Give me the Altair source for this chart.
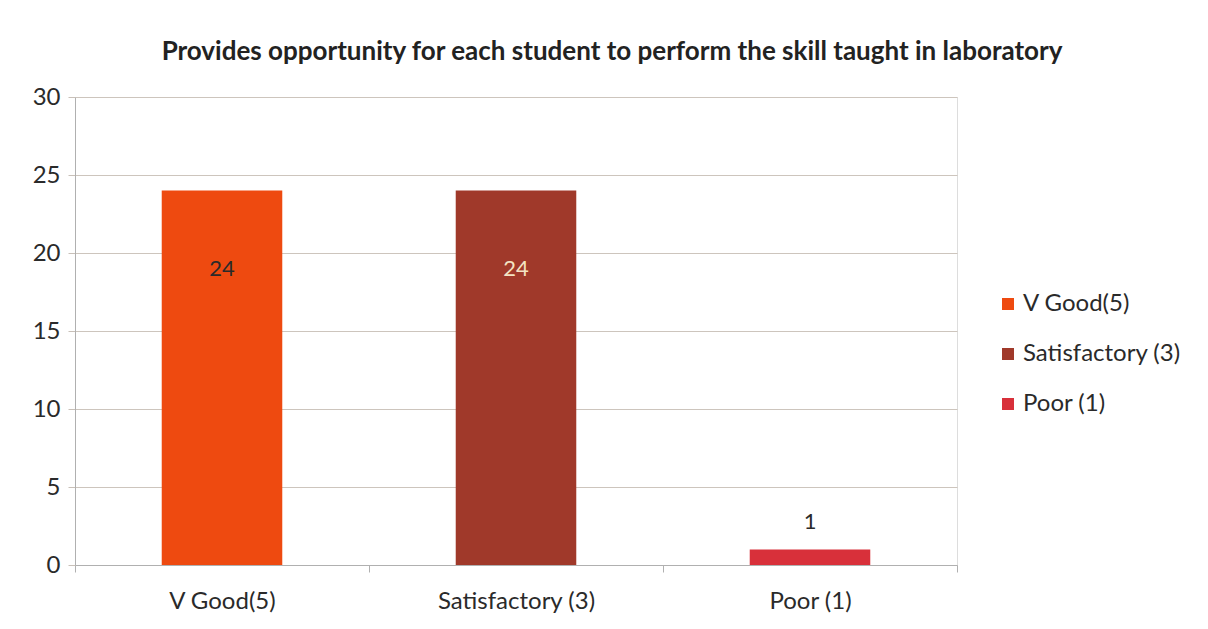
import altair as alt
import pandas as pd

categories = ["V Good(5)", "Satisfactory (3)", "Poor (1)"]
counts = [24, 24, 1]
colors = ["#EE4A10", "#A0392A", "#D8303A"]
title_text = "Provides opportunity for each student to perform the skill taught in laboratory"

df = pd.DataFrame({"category": categories, "count": counts})

FONT = "Lato"
TXT = "#2a2a2a"

x = alt.X("category:N", sort=categories, title=None,
          scale=alt.Scale(paddingInner=0, paddingOuter=0),
          axis=alt.Axis(labelAngle=0, labelFontSize=24, labelColor=TXT,
                        labelFont=FONT, tickBand="extent", tickSize=7,
                        tickColor="#b0b0b0", domainColor="#b0b0b0",
                        labelPadding=17, grid=False))
y = alt.Y("count:Q", title=None,
          scale=alt.Scale(domain=[0, 30]),
          axis=alt.Axis(values=[0, 5, 10, 15, 20, 25, 30], labelFontSize=24,
                        labelColor=TXT, labelFont=FONT, tickSize=7,
                        tickColor="#c8c0b8", domainColor="#b0b0b0",
                        gridColor="#cdc5bd", labelPadding=8))

base = alt.Chart(df)

bars = base.mark_bar(width={"band": 0.41}).encode(
    x=x, y=y,
    color=alt.Color("category:N", sort=categories,
                    scale=alt.Scale(domain=categories, range=colors),
                    legend=alt.Legend(title=None, orient="none", legendX=921, legendY=195,
                                      symbolType="square", symbolSize=144,
                                      symbolStrokeWidth=0, labelFontSize=24,
                                      labelFont=FONT, labelColor=TXT,
                                      rowPadding=26, labelOffset=3)),
)

big_labels = base.transform_filter("datum.count > 5").mark_text(
    baseline="middle", dy=78, fontSize=22, font=FONT
).encode(
    x=alt.X("category:N", sort=categories),
    y="count:Q",
    text="count:Q",
    color=alt.condition("datum.category == 'Satisfactory (3)'",
                        alt.value("#F3E3C3"), alt.value(TXT)),
)

small_labels = base.transform_filter("datum.count <= 5").mark_text(
    baseline="middle", dy=-27, fontSize=22, font=FONT, color=TXT
).encode(
    x=alt.X("category:N", sort=categories),
    y="count:Q",
    text="count:Q",
)

chart = alt.layer(bars, big_labels, small_labels).properties(
    width=882, height=468,
    title=alt.TitleParams(title_text, fontSize=26, font=FONT, fontWeight="bold",
                          color="#222222", anchor="middle", dx=96, offset=20),
    autosize=alt.AutoSizeParams(type="none"),
    padding={"left": 67, "top": 89, "right": 240, "bottom": 50},
).configure_view(stroke=None).configure(background="white")

chart.save("out.html", embed_options={"renderer": "svg", "actions": False})
